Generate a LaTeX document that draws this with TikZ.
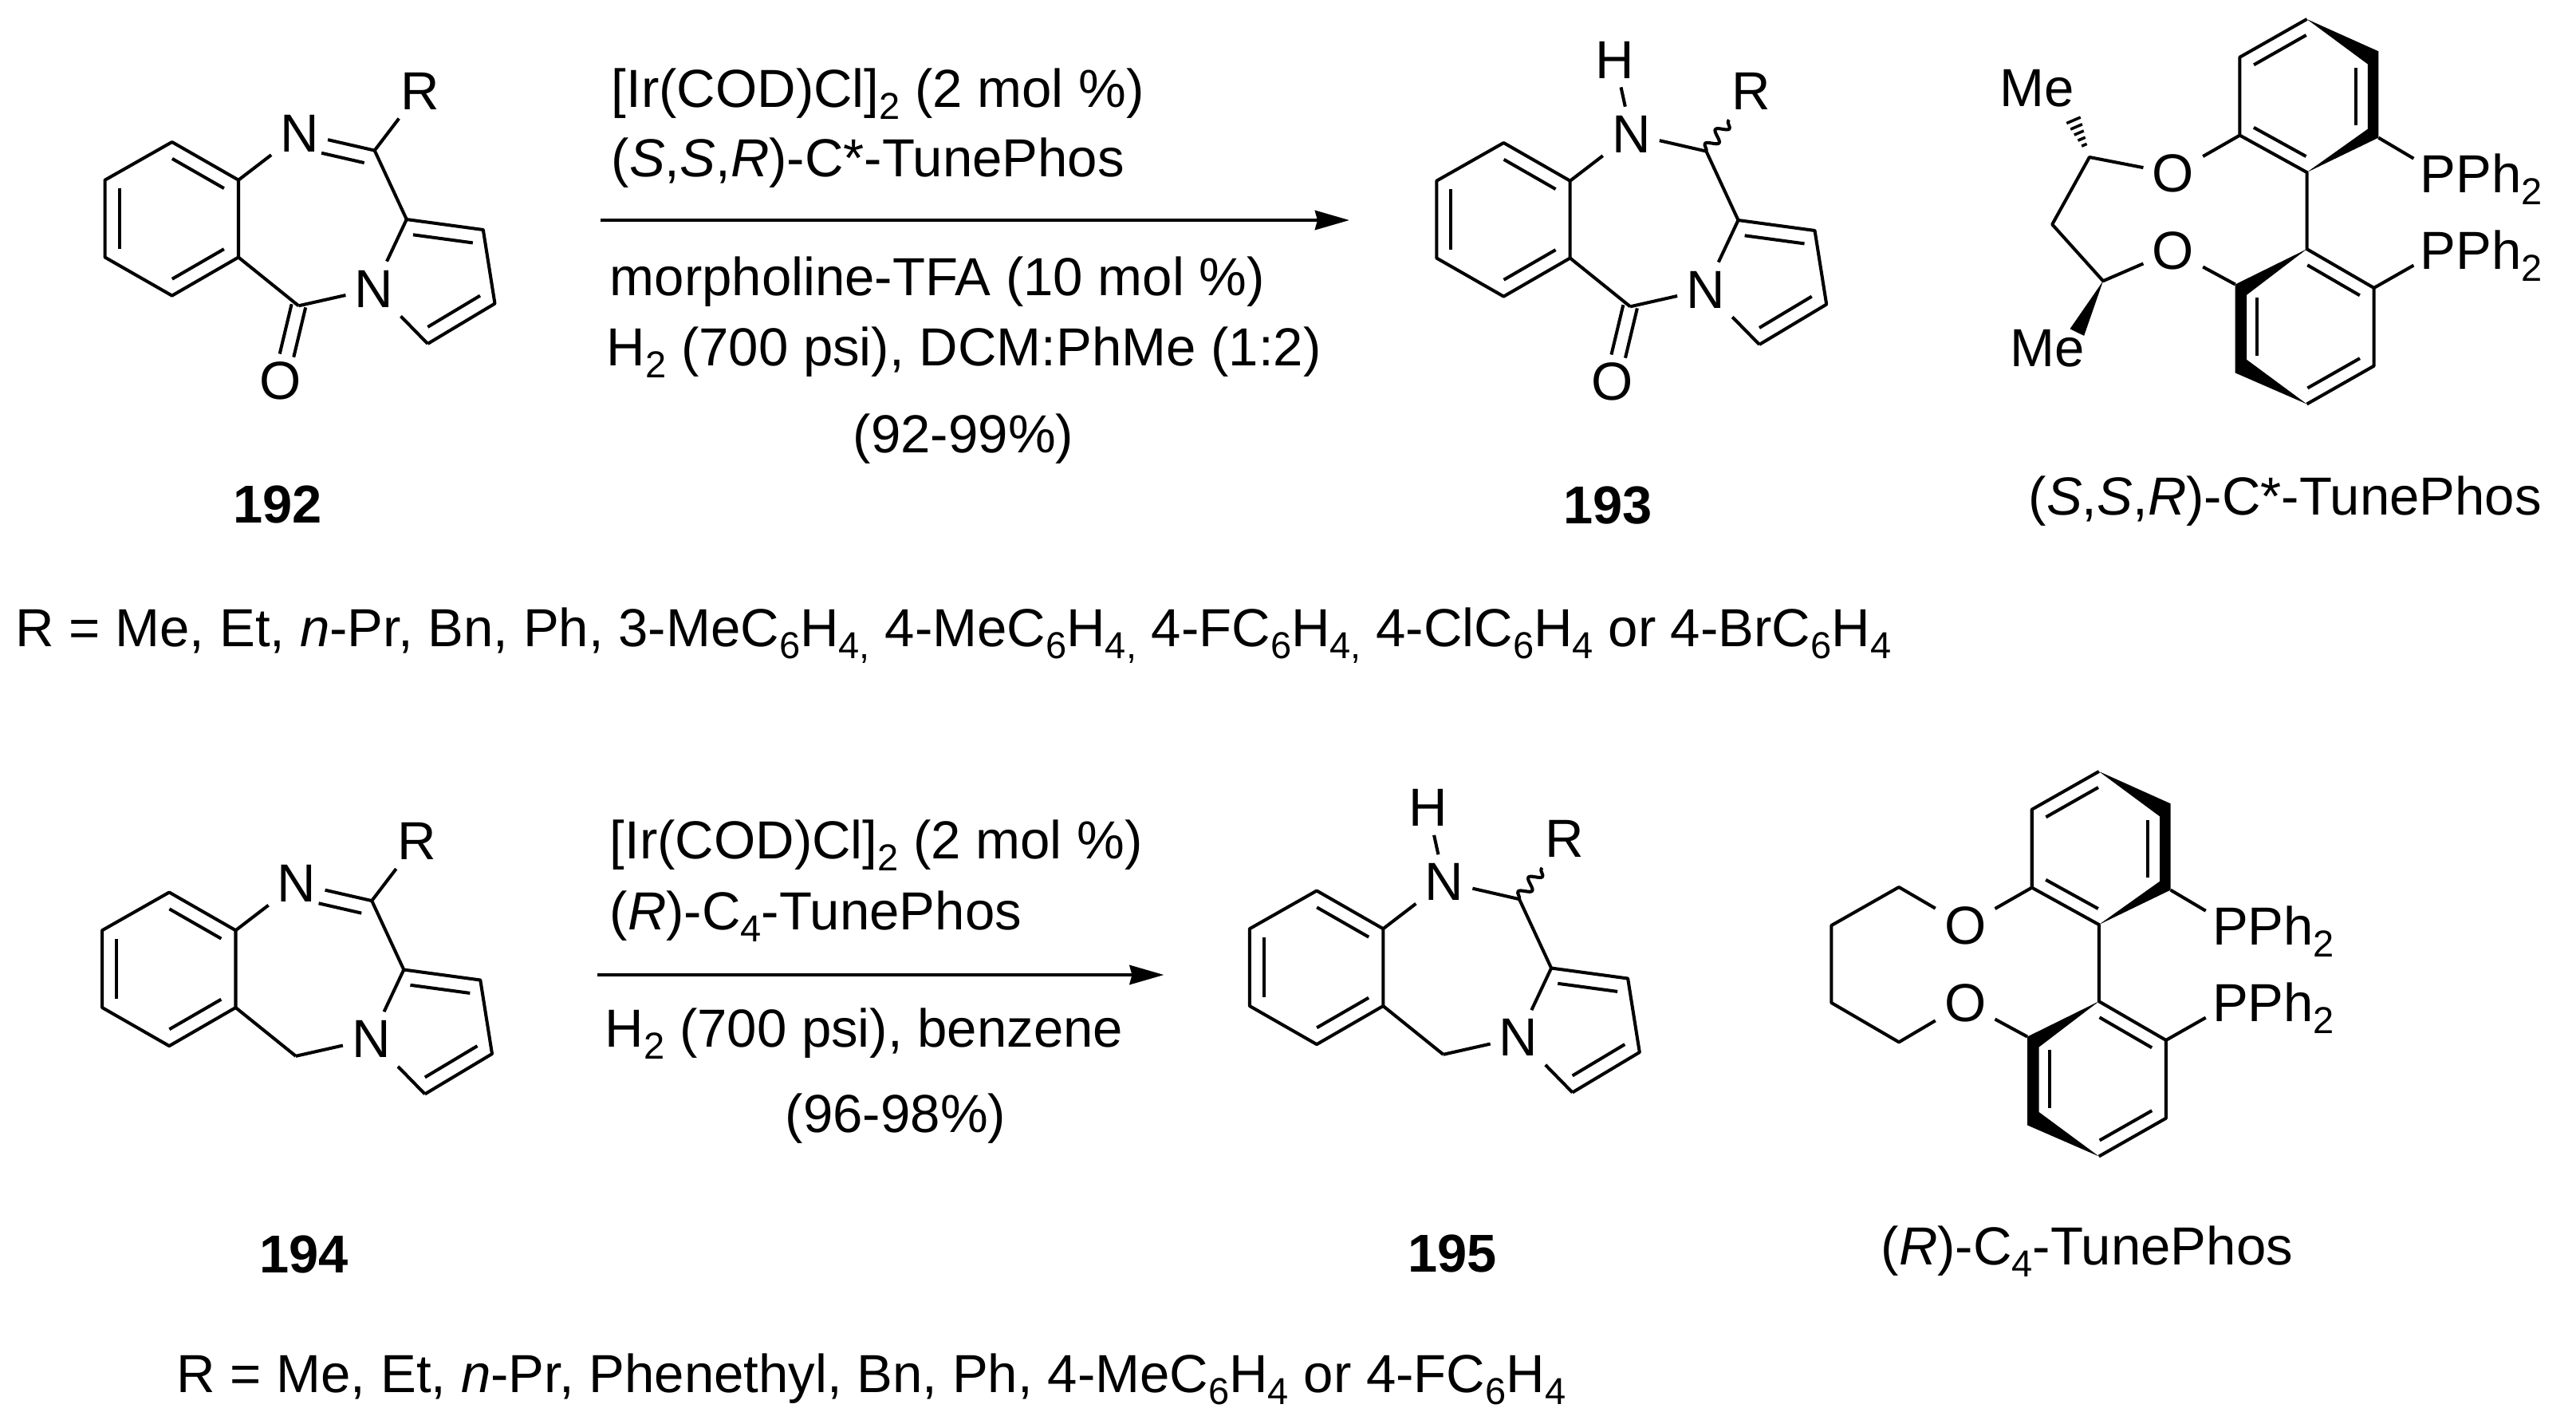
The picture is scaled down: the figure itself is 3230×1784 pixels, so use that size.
\documentclass[tikz,border=0pt]{standalone}
\usepackage{fontspec}
\setmainfont{Liberation Sans}
\usetikzlibrary{calc,arrows.meta,decorations.pathmorphing}

\newcommand{\sbs}[1]{\raisebox{-.23em}{\scalebox{.7}{#1}}}
\newcommand{\dbl}[4][.18cm]{\draw[bond] ($(#2)!.11!(#3)!#1!#4:(#3)$) -- ($(#2)!.89!(#3)!#1!#4:(#3)$);}

\newcommand{\tricycle}{
    \coordinate (a1) at (215.7,178);
    \coordinate (a2) at (131.6,225.7);
    \coordinate (a3) at (131.6,322.5);
    \coordinate (a4) at (215.7,370.6);
    \coordinate (a5) at (299,322.5);
    \coordinate (a6) at (299,225.7);
    \coordinate (C7) at (469.7,188.6);
    \coordinate (C8) at (374.4,383.3);
    \coordinate (p1) at (509.8,275);
    \coordinate (p2) at (605.8,288);
    \coordinate (p3) at (620.5,380.5);
    \coordinate (p4) at (536.3,430.9);
    \node (N1) [atom] at (375.6,167) {N};
    \node (N2) [atom] at (468.9,362) {N};
    \draw[bond] (a1) -- (a2) -- (a3) -- (a4) -- (a5) -- (a6) -- cycle;
    \dbl{a1}{a6}{-90}
    \dbl{a2}{a3}{90}
    \dbl{a4}{a5}{90}
    \draw[bond] (a6) -- (N1);
    \draw[bond] (a5) -- (C8);
    \draw[bond] (C8) -- (N2);
    \draw[bond] (C7) -- (p1);
    \draw[bond] (p1) -- (N2);
    \draw[bond] (N2) -- (p4);
    \draw[bond] (p1) -- (p2) -- (p3) -- (p4);
    \dbl{p1}{p2}{-90}
    \dbl{p3}{p4}{-90}
}

\newcommand{\carbonyl}{
    \node (O1) [atom] at (351.8,477.7) {O};
    \draw[bond] ($(C8)!.09cm!90:(O1)$) -- ($(C8)!.66!(O1)!.09cm!90:(O1)$);
    \draw[bond] ($(C8)!.09cm!-90:(O1)$) -- ($(C8)!.66!(O1)!.09cm!-90:(O1)$);
}

\newcommand{\imine}{
    \node (R1) [atom] at (526.4,114.2) {R};
    \draw[bond] (N1) -- (C7);
    \draw[bond] ($(N1)!.335!(C7)!.18cm!-90:(C7)$) -- ($(N1)!.905!(C7)!.18cm!-90:(C7)$);
    \draw[bond] (C7) -- (R1);
}

\newcommand{\amine}{
    \node (R1) [atom] at (526.4,113.2) {R};
    \node (H1) [atom] at (355.3,74) {H};
    \coordinate (w1) at (498.3,149.3);
    \draw[bond] (N1) -- (C7);
    \draw[bond] (N1) -- (H1);
    \draw[wavy] (C7) -- (w1);
}

\newcommand{\biaryl}{
    \coordinate (t1) at (2892.5,24);
    \coordinate (t2) at (2808.4,71.7);
    \coordinate (t3) at (2808.4,169.6);
    \coordinate (t4) at (2892.5,216);
    \coordinate (t5) at (2982.3,172.6);
    \coordinate (t6) at (2982.3,64.3);
    \coordinate (t7) at (2968.8,161.7);
    \coordinate (t8) at (2968.8,80.4);
    \coordinate (t9) at (2953.8,84.8);
    \coordinate (t10) at (2953.8,157.4);
    \coordinate (b1) at (2892.5,312.2);
    \coordinate (b2) at (2976.6,360.9);
    \coordinate (b3) at (2976.6,458.7);
    \coordinate (b4) at (2892.5,506.5);
    \coordinate (b5) at (2802.7,467.4);
    \coordinate (b6) at (2802.7,356.5);
    \coordinate (b7) at (2817.2,450.9);
    \coordinate (b8) at (2817.2,369.6);
    \coordinate (b9) at (2830.2,372.6);
    \coordinate (b10) at (2830.2,445.7);
    \coordinate (q1) at (3026.4,198.7);
    \coordinate (q2) at (3026.4,332.6);
    \node (O1) [atom] at (2724.8,217.4) {O};
    \node (O2) [atom] at (2724.8,314.3) {O};
    \node (P1) [txt] at (3034,241.3) {PPh\sbs{2}};
    \node (P2) [txt] at (3034,337) {PPh\sbs{2}};
    \draw[bond] (t1) -- (t2) -- (t3) -- (t4) -- (b1) -- (b2) -- (b3) -- (b4);
    \fill (t1) -- (t6) -- (t5) -- (t4) -- (t7) -- (t8) -- cycle;
    \fill (b1) -- (b6) -- (b5) -- (b4) -- (b7) -- (b8) -- cycle;
    \dbl[.17cm]{t2}{t1}{-90}
    \dbl[.17cm]{t3}{t4}{90}
    \dbl[.17cm]{b1}{b2}{-90}
    \dbl[.17cm]{b3}{b4}{-90}
    \draw[bond] (t9) -- (t10);
    \draw[bond] (b9) -- (b10);
    \draw[bond] (t3) -- (O1);
    \draw[bond] (b6) -- (O2);
    \draw[bond] (t5) -- (q1);
    \draw[bond] (b2) -- (q2);
}

\begin{document}
\begin{tikzpicture}[x=0.01cm, y=-0.01cm,
      every node/.append style={font=\fontsize{19.1}{19.1}\selectfont},
      bond/.style={line width=1.15pt,line join=round},
      wavy/.style={bond,decorate,decoration={snake,segment length=.22cm,amplitude=.07cm}},
      rxn/.style={line width=1.35pt,-{Stealth[length=.43cm,width=.24cm,inset=.03cm]}},
      atom/.style={inner sep=3pt},
      txt/.style={anchor=base west,inner sep=0pt},
      mid/.style={anchor=base,inner sep=0pt},
      cmpd/.style={inner sep=0pt,font=\fontsize{19}{19}\selectfont\bfseries}]
    \useasboundingbox (0,0) rectangle (3230,1784);

    % top row
    \begin{scope}[name prefix=m1-]
      \tricycle
      \carbonyl
      \imine
    \end{scope}
    \begin{scope}[shift={(1669.7,1)},name prefix=m2-]
      \tricycle
      \carbonyl
      \amine
    \end{scope}
    \node (n192) [cmpd] at (348,632) {192};
    \node (n193) [cmpd] at (2016,634) {193};

    \node (a1t1) [txt] at (766,134) {[Ir(COD)Cl]\sbs{2} (2 mol \%)};
    \node (a1t2) [txt] at (766,221) {(\textit{S},\textit{S},\textit{R})-C*-TunePhos};
    \coordinate (a1s) at (753,276);
    \coordinate (a1e) at (1692,276);
    \draw[rxn] (a1s) -- (a1e);
    \node (a1t3) [txt] at (764,370) {morpholine-TFA (10 mol \%)};
    \node (a1t4) [txt] at (760,458) {H\sbs{2} (700 psi), DCM:PhMe (1:2)};
    \node (a1t5) [mid] at (1208,567) {(92-99\%)};

    \begin{scope}[name prefix=l1-]
      \biaryl
    \end{scope}
    \coordinate (h1) at (2596.5,142.6);
    \coordinate (c1) at (2619.9,197);
    \coordinate (c2) at (2573.2,281.3);
    \coordinate (c3) at (2637,352.2);
    \coordinate (w2) at (2595.5,412.2);
    \coordinate (w3) at (2613.1,420.9);
    \node (me1) [atom] at (2554,111) {Me};
    \node (me2) [atom] at (2567,437) {Me};
    \draw[bond] (l1-O1) -- (c1) -- (c2) -- (c3) -- (l1-O2);
    \fill (c3) -- (w2) -- (w3) -- cycle;
    \foreach \f/\w in {.28/.035cm,.42/.05cm,.56/.065cm,.70/.08cm,.85/.095cm,1/.11cm}
      \draw[line width=1pt] ($(c1)!\f!(h1)!\w!90:(h1)$) -- ($(c1)!\f!(h1)!\w!-90:(h1)$);
    \node (lig1) [txt] at (2543,645) {(\textit{S},\textit{S},\textit{R})-C*-TunePhos};

    \node (rr1) [txt] at (19,810) {R = Me, Et, \textit{n}-Pr, Bn, Ph, 3-MeC\sbs{6}H\sbs{4,} 4-MeC\sbs{6}H\sbs{4,} 4-FC\sbs{6}H\sbs{4,} 4-ClC\sbs{6}H\sbs{4} or 4-BrC\sbs{6}H\sbs{4}};

    % bottom row
    \begin{scope}[shift={(-3.5,940.5)},name prefix=m3-]
      \tricycle
      \imine
    \end{scope}
    \begin{scope}[shift={(1435.3,938.5)},name prefix=m4-]
      \tricycle
      \amine
    \end{scope}
    \node (n194) [cmpd] at (381,1572) {194};
    \node (n195) [cmpd] at (1821,1571) {195};

    \node (a2t1) [txt] at (764,1076) {[Ir(COD)Cl]\sbs{2} (2 mol \%)};
    \node (a2t2) [txt] at (764,1165.5) {(\textit{R})-C\sbs{4}-TunePhos};
    \coordinate (a2s) at (749,1222);
    \coordinate (a2e) at (1459.5,1222);
    \draw[rxn] (a2s) -- (a2e);
    \node (a2t3) [txt] at (758,1312) {H\sbs{2} (700 psi), benzene};
    \node (a2t4) [mid] at (1123,1419) {(96-98\%)};

    \begin{scope}[shift={(-260.7,943)},name prefix=l2-]
      \biaryl
    \end{scope}
    \coordinate (d1) at (2381,1112);
    \coordinate (d2) at (2296.4,1160);
    \coordinate (d3) at (2296.4,1257);
    \coordinate (d4) at (2381,1306.3);
    \draw[bond] (l2-O1) -- (d1) -- (d2) -- (d3) -- (d4) -- (l2-O2);
    \node (lig2) [txt] at (2358,1585) {(\textit{R})-C\sbs{4}-TunePhos};

    \node (rr2) [txt] at (221,1745) {R = Me, Et, \textit{n}-Pr, Phenethyl, Bn, Ph, 4-MeC\sbs{6}H\sbs{4} or 4-FC\sbs{6}H\sbs{4}};
\end{tikzpicture}
\end{document}
